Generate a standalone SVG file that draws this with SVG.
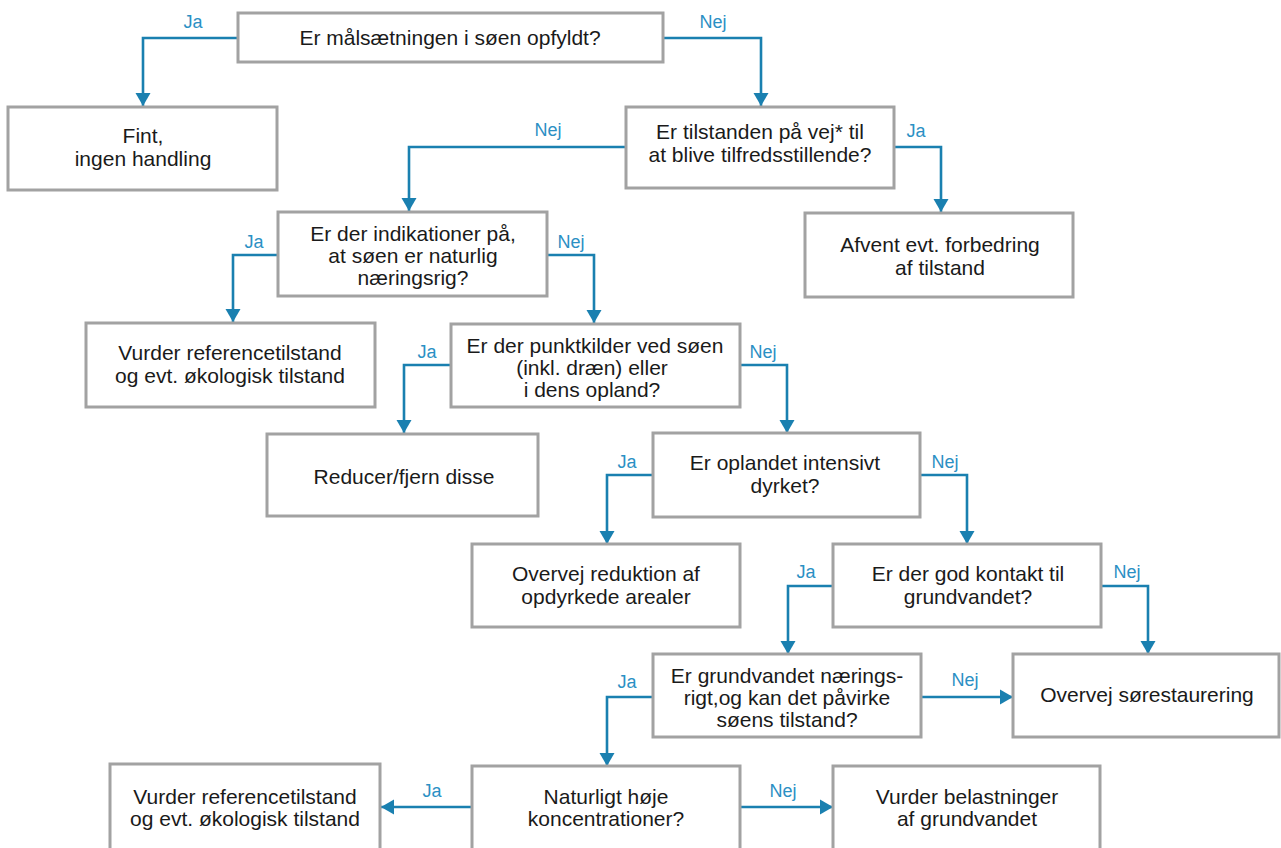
<svg xmlns="http://www.w3.org/2000/svg" width="1281" height="848" viewBox="0 0 1281 848">
<style>
.box{fill:#fff;stroke:#a2a2a2;stroke-width:3}
.t{font-family:"Liberation Sans",Arial,sans-serif;font-size:21px;fill:#1a1a1a;text-anchor:middle}
.l{font-family:"Liberation Sans",Arial,sans-serif;font-size:18px;fill:#2b90c4;text-anchor:middle}
.c{fill:none;stroke:#1a80b0;stroke-width:2.6}
</style>
<defs>
<marker id="ah" markerWidth="14" markerHeight="16" refX="13" refY="8" orient="auto" markerUnits="userSpaceOnUse">
<path d="M0,0.5 L13,8 L0,15.5 Z" fill="#1a80b0"/>
</marker>
</defs>
<rect width="1281" height="848" fill="#fff"/>
<g id="connectors">
<path class="c" marker-end="url(#ah)" d="M238,38 H143 V106"/>
<path class="c" marker-end="url(#ah)" d="M663,38 H761 V106"/>
<path class="c" marker-end="url(#ah)" d="M626,147 H409 V211"/>
<path class="c" marker-end="url(#ah)" d="M894,147 H941 V212"/>
<path class="c" marker-end="url(#ah)" d="M278,255 H233 V322"/>
<path class="c" marker-end="url(#ah)" d="M547,255 H594 V323"/>
<path class="c" marker-end="url(#ah)" d="M451,365 H404 V433"/>
<path class="c" marker-end="url(#ah)" d="M740,365 H787 V433"/>
<path class="c" marker-end="url(#ah)" d="M653,475 H607 V544"/>
<path class="c" marker-end="url(#ah)" d="M920,475 H967 V544"/>
<path class="c" marker-end="url(#ah)" d="M833,586 H788 V654"/>
<path class="c" marker-end="url(#ah)" d="M1101,586 H1148 V654"/>
<path class="c" marker-end="url(#ah)" d="M921,697 H1013"/>
<path class="c" marker-end="url(#ah)" d="M653,697 H607 V766"/>
<path class="c" marker-end="url(#ah)" d="M472,807 H381"/>
<path class="c" marker-end="url(#ah)" d="M740,807 H833"/>
<text class="l" x="193" y="28">Ja</text>
<text class="l" x="713" y="28">Nej</text>
<text class="l" x="548" y="136">Nej</text>
<text class="l" x="916" y="137">Ja</text>
<text class="l" x="254" y="248">Ja</text>
<text class="l" x="571" y="248">Nej</text>
<text class="l" x="427" y="358">Ja</text>
<text class="l" x="763" y="358">Nej</text>
<text class="l" x="627" y="468">Ja</text>
<text class="l" x="945" y="468">Nej</text>
<text class="l" x="806" y="578">Ja</text>
<text class="l" x="1127" y="578">Nej</text>
<text class="l" x="627" y="688">Ja</text>
<text class="l" x="965" y="686">Nej</text>
<text class="l" x="432" y="797">Ja</text>
<text class="l" x="783" y="797">Nej</text>
</g>
<g id="n1"><rect class="box" x="238" y="13" width="425" height="49"/><text class="t" x="450" y="45">Er målsætningen i søen opfyldt?</text></g>
<g id="n2"><rect class="box" x="8" y="107" width="269" height="83"/><text class="t" x="143" y="143">Fint,</text><text class="t" x="143" y="166">ingen handling</text></g>
<g id="n3"><rect class="box" x="626" y="107" width="268" height="81"/><text class="t" x="760" y="139">Er tilstanden på vej* til</text><text class="t" x="760" y="162">at blive tilfredsstillende?</text></g>
<g id="n4"><rect class="box" x="278" y="212" width="269" height="84"/><text class="t" x="413" y="241">Er der indikationer på,</text><text class="t" x="413" y="263">at søen er naturlig</text><text class="t" x="413" y="285">næringsrig?</text></g>
<g id="n5"><rect class="box" x="805" y="213" width="268" height="84"/><text class="t" x="940" y="252">Afvent evt. forbedring</text><text class="t" x="940" y="275">af tilstand</text></g>
<g id="n6"><rect class="box" x="86" y="323" width="289" height="84"/><text class="t" x="230" y="360">Vurder referencetilstand</text><text class="t" x="230" y="383">og evt. økologisk tilstand</text></g>
<g id="n7"><rect class="box" x="451" y="324" width="289" height="83"/><text class="t" x="595" y="353">Er der punktkilder ved søen</text><text class="t" x="592" y="375">(inkl. dræn) eller</text><text class="t" x="592" y="397">i dens opland?</text></g>
<g id="n8"><rect class="box" x="267" y="434" width="271" height="82"/><text class="t" x="404" y="484">Reducer/fjern disse</text></g>
<g id="n9"><rect class="box" x="653" y="433" width="267" height="84"/><text class="t" x="785" y="470">Er oplandet intensivt</text><text class="t" x="785" y="493">dyrket?</text></g>
<g id="n10"><rect class="box" x="472" y="544" width="268" height="83"/><text class="t" x="606" y="581">Overvej reduktion af</text><text class="t" x="606" y="604">opdyrkede arealer</text></g>
<g id="n11"><rect class="box" x="833" y="544" width="268" height="83"/><text class="t" x="968" y="581">Er der god kontakt til</text><text class="t" x="968" y="604">grundvandet?</text></g>
<g id="n12"><rect class="box" x="653" y="654" width="268" height="83"/><text class="t" x="787" y="683">Er grundvandet nærings-</text><text class="t" x="787" y="705">rigt,og kan det påvirke</text><text class="t" x="787" y="727">søens tilstand?</text></g>
<g id="n13"><rect class="box" x="1013" y="654" width="266" height="83"/><text class="t" x="1147" y="702">Overvej sørestaurering</text></g>
<g id="n14"><rect class="box" x="472" y="766" width="268" height="84"/><text class="t" x="606" y="804">Naturligt høje</text><text class="t" x="606" y="826">koncentrationer?</text></g>
<g id="n15"><rect class="box" x="110" y="764" width="270" height="86"/><text class="t" x="245" y="804">Vurder referencetilstand</text><text class="t" x="245" y="826">og evt. økologisk tilstand</text></g>
<g id="n16"><rect class="box" x="833" y="766" width="267" height="84"/><text class="t" x="967" y="804">Vurder belastninger</text><text class="t" x="967" y="826">af grundvandet</text></g>
</svg>
